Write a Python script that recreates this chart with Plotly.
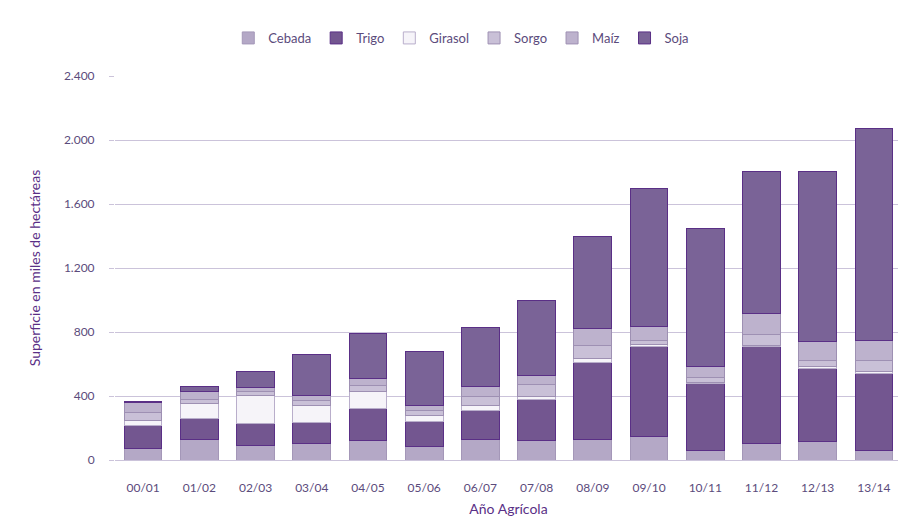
import plotly.graph_objects as go

years = ["00/01", "01/02", "02/03", "03/04", "04/05", "05/06", "06/07",
         "07/08", "08/09", "09/10", "10/11", "11/12", "12/13", "13/14"]

cebada  = [75, 130, 90, 104, 125, 83, 129, 125, 129, 146, 62, 104, 115, 62]
trigo   = [140, 131, 140, 129, 198, 156, 183, 254, 479, 563, 417, 604, 458, 479]
girasol = [30, 94, 173, 110, 104, 42, 30, 20, 27, 15, 5, 8, 10, 10]
sorgo   = [50, 25, 25, 30, 40, 31, 55, 70, 83, 25, 30, 70, 40, 73]
maiz    = [65, 48, 27, 32, 43, 31, 62, 62, 104, 85, 70, 130, 117, 125]
soja    = [5, 31, 98, 254, 281, 333, 371, 465, 573, 864, 865, 885, 1062, 1323]

tick_vals = [0, 400, 800, 1200, 1600, 2000, 2400]
tick_text = ["0", "400", "800", "1.200", "1.600", "2.000", "2.400"]

series = [
    ("Cebada", cebada, "#b4a8c6", "#a497b8"),
    ("Trigo", trigo, "#735690", "#5a2f86"),
    ("Girasol", girasol, "#f6f4f9", "#b9aecb"),
    ("Sorgo", sorgo, "#c9c0d7", "#9e90b3"),
    ("Maíz", maiz, "#bdb2cd", "#9e90b3"),
    ("Soja", soja, "#7a6397", "#5a2f86"),
]

fig = go.Figure()
for name, vals, fill, line in series:
    fig.add_trace(go.Bar(
        name=name, x=years, y=vals,
        marker=dict(color=fill, line=dict(color=line, width=1)),
    ))

fig.update_layout(
    barmode="stack",
    bargap=0.33,
    width=906, height=525,
    margin=dict(l=107, r=12, t=68, b=73, autoexpand=False),
    paper_bgcolor="white", plot_bgcolor="white",
    font=dict(family="Lato, Open Sans, sans-serif", color="#5b4b7c", size=12),
    legend=dict(orientation="h", x=0.44, xanchor="center", y=1.099, yanchor="middle",
                font=dict(size=13, color="#5b4b7c"), traceorder="normal",
                itemwidth=30, tracegroupgap=0),
    xaxis=dict(
        title=dict(text="Año Agrícola", font=dict(size=14, color="#5a2f86"), standoff=10),
        tickfont=dict(size=12, color="#5b4b7c"),
        showline=False, ticks="", ticklabelstandoff=19,
    ),
    yaxis=dict(
        title=dict(text="Superficie en miles de hectáreas", font=dict(size=14, color="#5a2f86"), standoff=20),
        range=[0, 2400], tickvals=tick_vals, ticktext=tick_text,
        tickfont=dict(size=12, color="#5b4b7c"),
        showgrid=True, gridcolor="#cbc3da", gridwidth=1,
        zeroline=True, zerolinecolor="#cbc3da", zerolinewidth=1,
        ticks="outside", ticklen=5, tickcolor="#cbc3da", ticklabelstandoff=12,
    ),
)

fig.write_html("out.html")
